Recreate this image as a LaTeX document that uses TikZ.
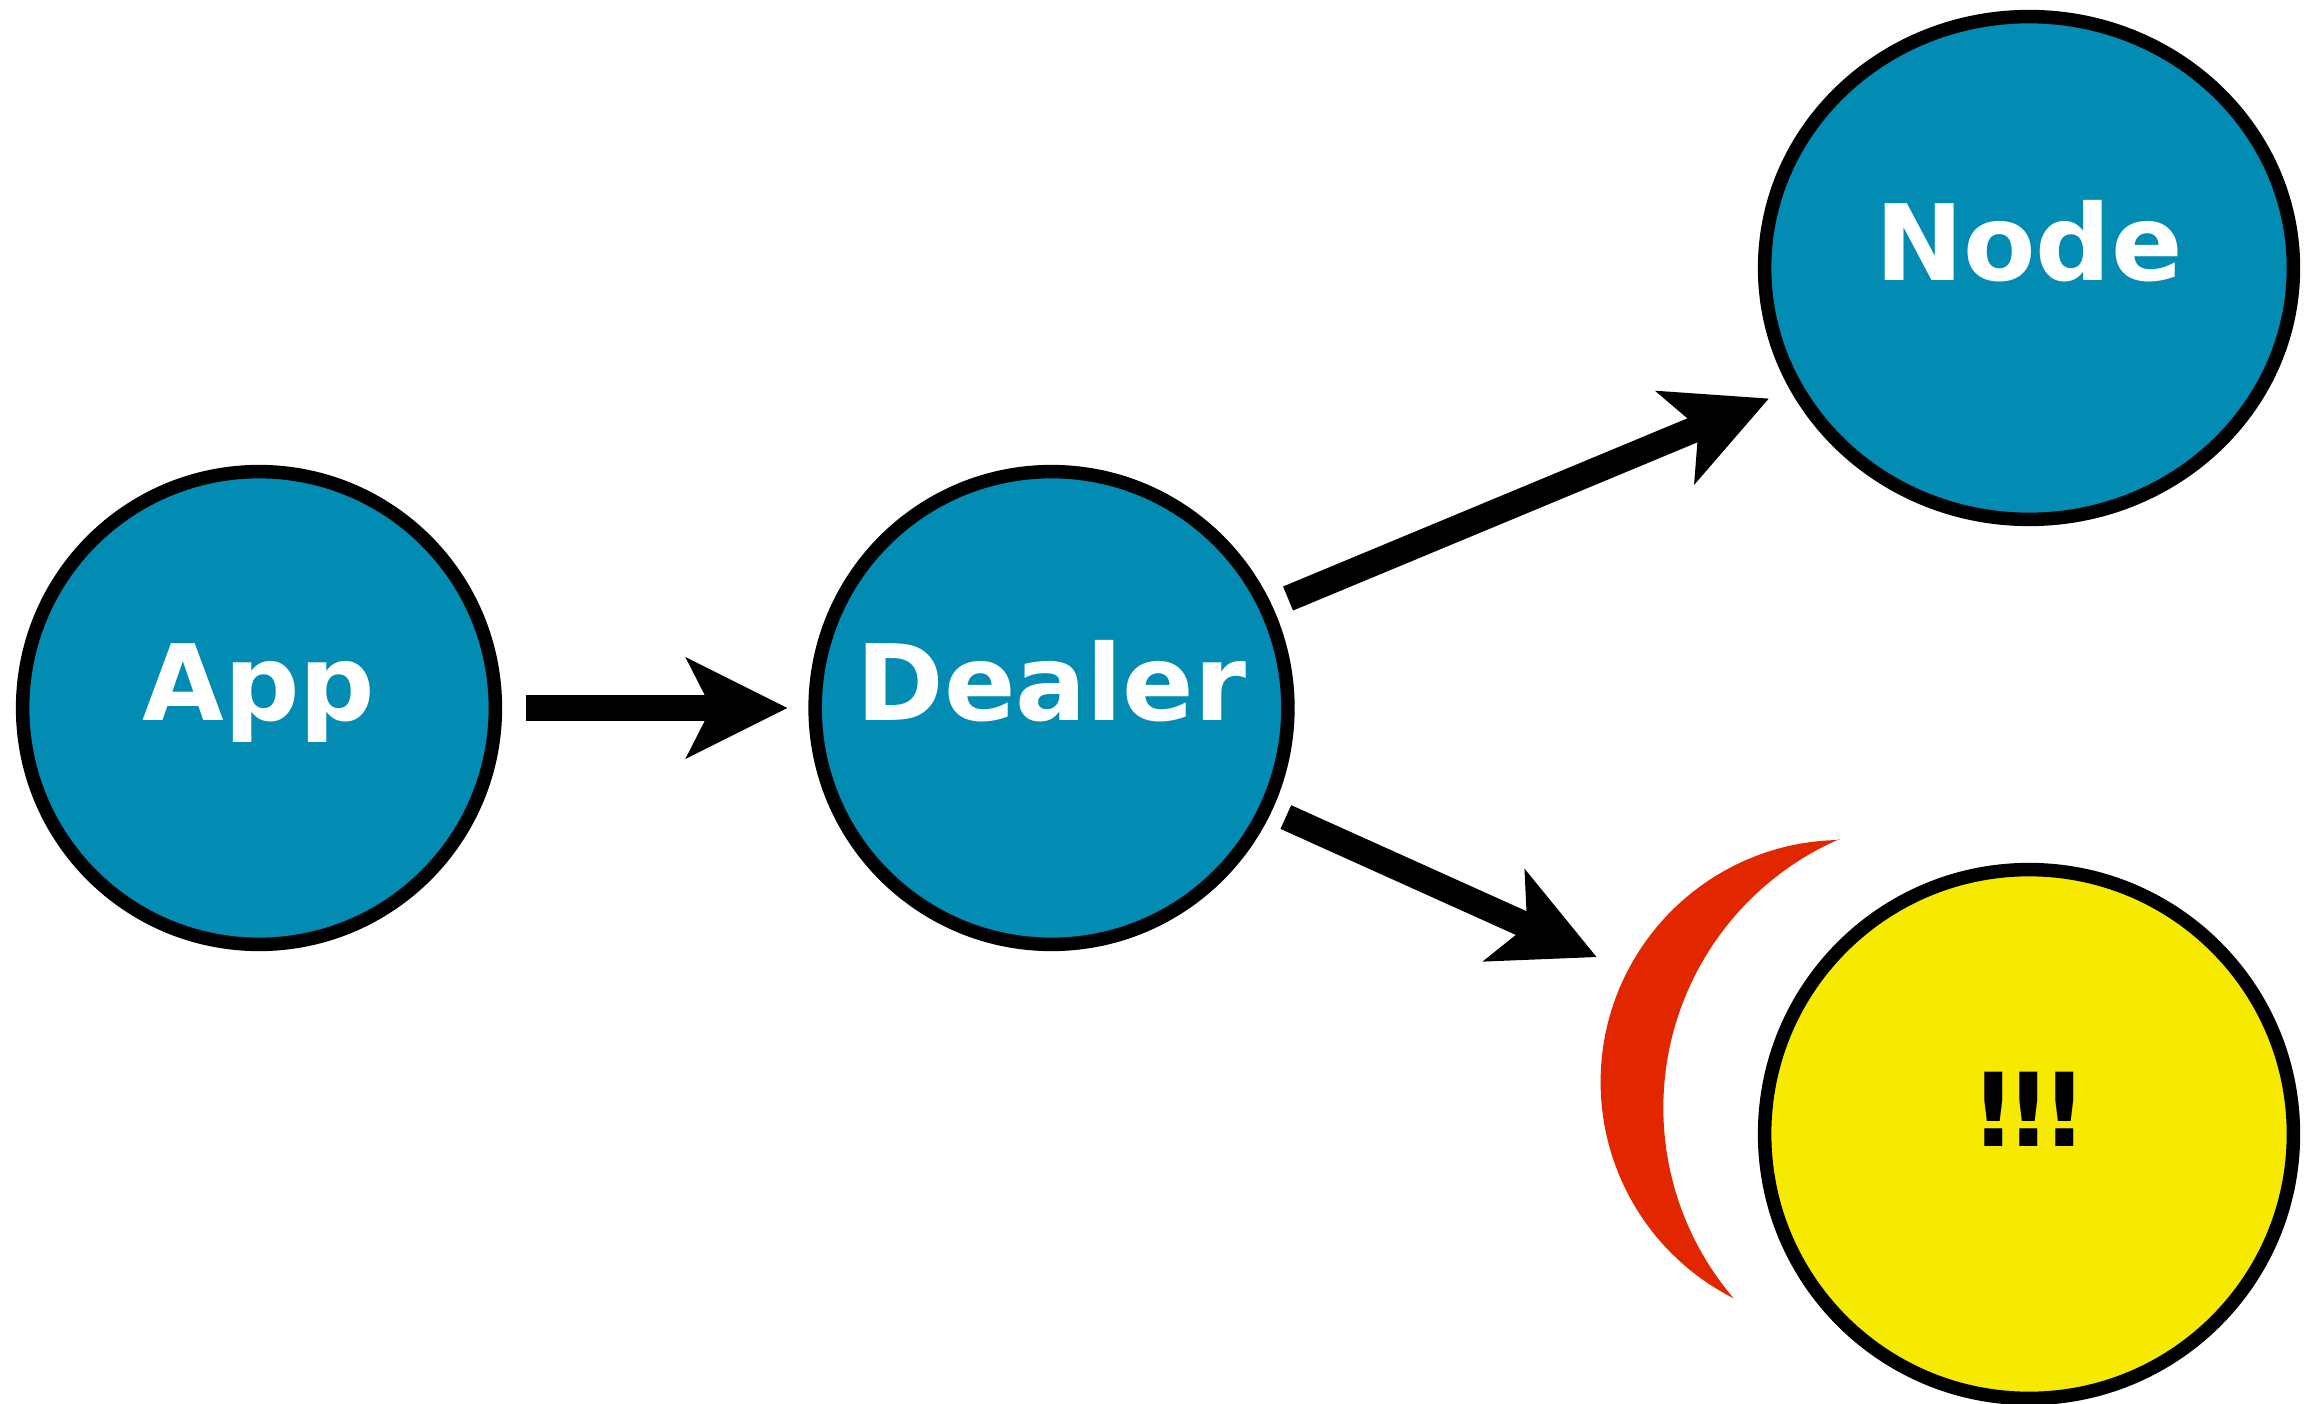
\documentclass[tikz,border=0pt]{standalone}
\usepackage{fontspec}
\newfontfamily\lblfont{DejaVu Sans}
\usetikzlibrary{arrows.meta,shapes.geometric}
\definecolor{nodeblue}{RGB}{2,140,179}
\definecolor{warnyellow}{RGB}{245,234,0}
\definecolor{bouncered}{RGB}{226,38,0}
\begin{document}
\begin{tikzpicture}[x=0.01cm, y=0.01cm,
  circ/.style={draw=black, line width=0.135cm, inner sep=0pt, text height=0.73em, text depth=0pt},
  bluecirc/.style={circ, fill=nodeblue, text=white, font=\lblfont\bfseries\fontsize{30pt}{36pt}\selectfont},
  smallcirc/.style={circle, minimum size=4.725cm},
  bigcirc/.style={circle, minimum size=5.285cm},
  bigoval/.style={ellipse, minimum width=5.285cm, minimum height=5.025cm},
  conn/.style={line width=0.26cm, -{Stealth[length=1.02cm, width=1.02cm, inset=0.26cm, line width=0pt]}}
]
\useasboundingbox (0,0) rectangle (2304,-1404);
% red crescent
\fill[bouncered] (1838.5,-840) arc[start angle=91, end angle=243.2, radius=2.42cm]
  arc[start angle=220.5, end angle=113.5, radius=2.93cm] -- cycle;
% nodes
\node[bluecirc, smallcirc] (app) at (259,-708) {App};
\node[bluecirc, smallcirc] (dealer) at (1051.5,-708) {Dealer};
\node[bluecirc, bigoval] (nd) at (2029,-268) {Node};
\node[circ, bigcirc, fill=warnyellow, text=black, font=\lblfont\bfseries\fontsize{29pt}{35pt}\selectfont] (warn) at (2029,-1134) {!\kern-0.11cm!\kern-0.11cm!};
\coordinate (hit) at (1596.5,-957);
% connectors
\draw[conn, shorten <=0.24cm, shorten >=0.21cm] (app) -- (dealer);
\draw[conn, shorten <=0.175cm, shorten >=0.23cm] (dealer.25.4) -- (nd.207.8);
\draw[conn, shorten <=0.153cm] (dealer.-25.8) -- (hit);
\end{tikzpicture}
\end{document}
